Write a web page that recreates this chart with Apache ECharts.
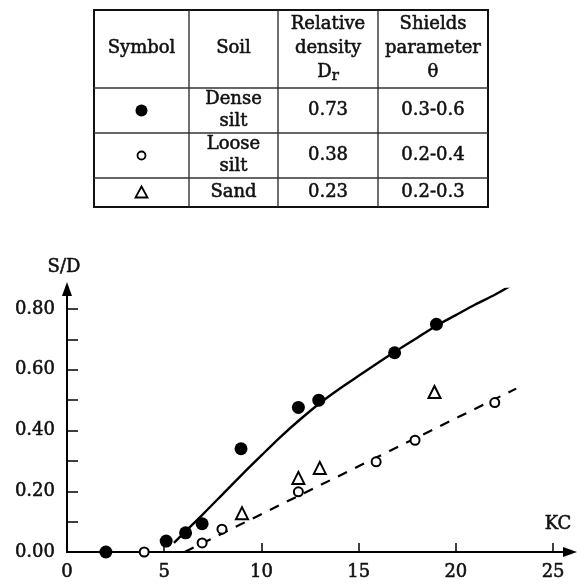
<!DOCTYPE html>
<html>
<head>
<meta charset="utf-8">
<script src="https://cdn.jsdelivr.net/npm/echarts@6.0.0/dist/echarts.min.js"></script>
<style>
html,body{margin:0;padding:0;background:#fff;}
#chart{width:577px;height:584px;}
</style>
</head>
<body>
<div id="chart"></div>
<script>
// ---- data ----
var denseSilt = [[2, 0], [5.1, 0.036], [6.1, 0.063], [6.95, 0.093], [8.95, 0.34], [11.9, 0.476], [12.95, 0.50], [16.85, 0.656], [19.0, 0.75]];
var looseSilt = [[3.97, 0], [6.95, 0.03], [7.97, 0.075], [11.9, 0.198], [15.9, 0.297], [17.9, 0.368], [22.0, 0.492]];
var sand = [[9.0, 0.128], [11.9, 0.244], [13.0, 0.277], [18.9, 0.527]];
var solidCurveX = [5.5, 6, 7, 8, 9, 10, 11, 12, 13, 14, 15, 16, 17, 18, 19, 20, 21, 22, 22.8];
var solidCurveY = [0.03, 0.062, 0.125, 0.19, 0.255, 0.318, 0.38, 0.437, 0.49, 0.537, 0.58, 0.623, 0.665, 0.705, 0.745, 0.78, 0.815, 0.847, 0.876];
var dashedLine = [[6.05, 0], [23.1, 0.538]];
var xTickLabels = [0, 5, 10, 15, 20, 25];
var xTicks = [5, 10, 15, 20, 25];
var yTickLabels = [0, 0.2, 0.4, 0.6, 0.8];
var yTicks = [0.1, 0.2, 0.3, 0.4, 0.5, 0.6, 0.7, 0.8];
var tableHeader = ['Symbol', 'Soil', 'Relative\ndensity\nD{sub|r}', 'Shields\nparameter\nθ'];
var tableSymbols = ['filled', 'open', 'triangle'];
var tableSoil = ['Dense\nsilt', 'Loose\nsilt', 'Sand'];
var tableDensity = ['0.73', '0.38', '0.23'];
var tableShields = ['0.3-0.6', '0.2-0.4', '0.2-0.3'];

var solidCurve = solidCurveX.map(function (x, i) { return [x, solidCurveY[i]]; });

// ---- table layout ----
var FONT = 'DejaVu Serif';
var FS = 18;
var TXT = '#111';
var SW = 0.55; // stroke to thicken glyphs
var colX = [94, 189, 278, 378, 488];
var rowY = [10, 88, 133, 178, 207];
var g = [];
g.push({type: 'rect', shape: {x: colX[0], y: rowY[0], width: colX[4] - colX[0], height: rowY[4] - rowY[0]},
  style: {fill: 'none', stroke: '#111', lineWidth: 2}});
for (var i = 1; i < 4; i++) {
  g.push({type: 'line', shape: {x1: colX[i], y1: rowY[0], x2: colX[i], y2: rowY[4]}, style: {stroke: '#222', lineWidth: 1.3}});
  g.push({type: 'line', shape: {x1: colX[0], y1: rowY[i], x2: colX[4], y2: rowY[i]}, style: {stroke: '#333', lineWidth: 1.3}});
}
function txtStyle(txt, x, y, lh) {
  return {text: txt, x: x, y: y, align: 'center', verticalAlign: 'middle', fill: TXT,
    stroke: TXT, lineWidth: SW,
    font: FS + 'px "' + FONT + '"', lineHeight: lh || 22,
    rich: {sub: {fontSize: 15, fontFamily: FONT, padding: [9, 0, 0, 0], lineHeight: lh || 22, fill: TXT, stroke: TXT, lineWidth: SW}}};
}
for (var c = 0; c < 4; c++) {
  g.push({type: 'text', style: txtStyle(tableHeader[c], (colX[c] + colX[c + 1]) / 2, (rowY[0] + rowY[1]) / 2 - 1, 24)});
}
for (var r = 0; r < 3; r++) {
  var cx = (colX[0] + colX[1]) / 2, cy = (rowY[r + 1] + rowY[r + 2]) / 2;
  if (tableSymbols[r] === 'filled') {
    g.push({type: 'circle', shape: {cx: cx, cy: cy, r: 6}, style: {fill: '#000'}});
  } else if (tableSymbols[r] === 'open') {
    g.push({type: 'circle', shape: {cx: cx, cy: cy, r: 4}, style: {fill: '#fff', stroke: '#000', lineWidth: 1.8}});
  } else {
    g.push({type: 'polygon', shape: {points: [[cx, cy - 6], [cx - 6, cy + 5], [cx + 6, cy + 5]]}, style: {fill: 'none', stroke: '#000', lineWidth: 1.8}});
  }
  g.push({type: 'text', style: txtStyle(tableSoil[r], (colX[1] + colX[2]) / 2, cy)});
  g.push({type: 'text', style: txtStyle(tableDensity[r], (colX[2] + colX[3]) / 2, cy)});
  g.push({type: 'text', style: txtStyle(tableShields[r], (colX[3] + colX[4]) / 2, cy)});
}
g.push({type: 'text', style: txtStyle('KC', 558, 524)});
g.push({type: 'text', style: txtStyle('S/D', 64, 267)});

var axisLabelStyle = {color: TXT, fontFamily: FONT, fontSize: FS, textBorderColor: TXT, textBorderWidth: SW};

var chart = echarts.init(document.getElementById('chart'));
chart.setOption({
  animation: false,
  backgroundColor: '#fff',
  grid: {left: 67, right: 7, top: 289, bottom: 32, containLabel: false},
  xAxis: {
    type: 'value', min: 0, max: 25.87,
    splitLine: {show: false},
    axisLine: {lineStyle: {color: '#000', width: 2}, symbol: ['none', 'triangle'], symbolSize: [10, 14]},
    axisTick: {inside: true, length: 9, lineStyle: {color: '#000', width: 1.5}, customValues: xTicks},
    axisLabel: Object.assign({customValues: xTickLabels, margin: 11}, axisLabelStyle)
  },
  yAxis: {
    type: 'value', min: 0, max: 0.866,
    splitLine: {show: false},
    axisLine: {show: true, lineStyle: {color: '#000', width: 2}, symbol: ['none', 'triangle'], symbolSize: [10, 14]},
    axisTick: {show: true, inside: true, length: 11, lineStyle: {color: '#000', width: 1.5}, customValues: yTicks},
    axisLabel: Object.assign({customValues: yTickLabels, margin: 12,
      formatter: function (v) { return v.toFixed(2); }}, axisLabelStyle)
  },
  graphic: g,
  series: [
    {type: 'line', data: solidCurve, smooth: 0.3, showSymbol: false, lineStyle: {color: '#000', width: 2.4}, z: 1},
    {type: 'line', data: dashedLine, showSymbol: false, lineStyle: {color: '#000', width: 2.2, type: [10, 9]}, z: 1},
    {type: 'scatter', data: denseSilt, symbol: 'circle', symbolSize: 13, itemStyle: {color: '#000', opacity: 1}, z: 3},
    {type: 'scatter', data: looseSilt, symbol: 'emptyCircle', symbolSize: 9, itemStyle: {color: '#000', borderWidth: 1.8, opacity: 1}, z: 3},
    {type: 'scatter', data: sand, symbol: 'emptyTriangle', symbolSize: 12, itemStyle: {color: '#000', borderWidth: 1.8, opacity: 1}, z: 3}
  ]
});
</script>
</body>
</html>
